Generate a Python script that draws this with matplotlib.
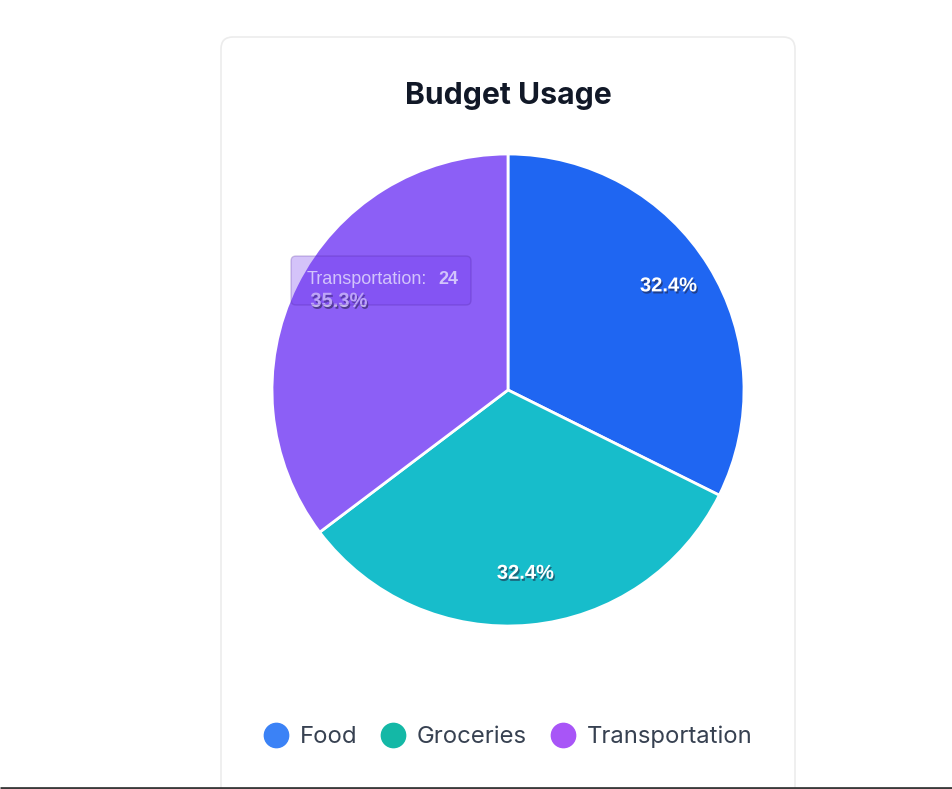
import matplotlib.pyplot as plt
import matplotlib.patheffects as pe
from matplotlib.patches import FancyBboxPatch
from matplotlib.lines import Line2D

# data
labels = ['Food', 'Groceries', 'Transportation']
values = [22, 22, 24]
slice_colors = ['#1f66f2', '#17bdcb', '#8c5ff6']
legend_colors = ['#3b82f6', '#14b8a6', '#a855f7']
hover_label = 'Transportation'

W, H = 953, 789
fig = plt.figure(figsize=(W / 100, H / 100), dpi=100)
fig.patch.set_facecolor('white')

# card behind everything
base = fig.add_axes([0, 0, 1, 1], zorder=-5)
base.set_xlim(0, W)
base.set_ylim(H, 0)
base.axis('off')
base.add_patch(FancyBboxPatch((221, 37), 574, 780, boxstyle='round,pad=0,rounding_size=12',
                              facecolor='white', edgecolor='#ececec', lw=1.2))

# pie
cx, cy, r = 508, 390, 236
ax = fig.add_axes([(cx - r) / W, (H - cy - r) / H, 2 * r / W, 2 * r / H], zorder=0)
wedges, texts, autotexts = ax.pie(
    values, colors=slice_colors, startangle=90, counterclock=False,
    autopct='%1.1f%%', pctdistance=0.8,
    wedgeprops=dict(edgecolor='white', linewidth=2, joinstyle='round'),
    textprops=dict(color='white', fontsize=14.5, fontweight='bold',
                   family='Liberation Sans'))
ax.set_xlim(-1, 1)
ax.set_ylim(-1, 1)
ax.set_aspect('auto')

shadow = [pe.SimplePatchShadow(offset=(1, -1.5), shadow_rgbFace='#1f1f3a', alpha=0.55),
          pe.Normal()]
for i, t in enumerate(autotexts):
    x, y = t.get_position()
    t.set_position((x, y + 0.02))
    t.set_path_effects(shadow)
    if labels[i] == hover_label:
        t.set_color('#ddd4fb')

# overlay axes in pixel coords: title, tooltip, bottom rule
bg = fig.add_axes([0, 0, 1, 1], zorder=1)
bg.set_xlim(0, W)
bg.set_ylim(H, 0)
bg.axis('off')
bg.patch.set_alpha(0)

bg.plot([0, W], [788, 788], color='#3a3a3a', lw=2, solid_capstyle='butt')
bg.text(508, 96, 'Budget Usage', ha='center', va='center', fontsize=21.7,
        fontweight='bold', family='Inter', color='#111827')

# hover tooltip (faded)
hi = labels.index(hover_label)
bg.add_patch(FancyBboxPatch((291, 256), 180, 49, boxstyle='round,pad=0,rounding_size=5',
                            facecolor=(0.45, 0.23, 0.93, 0.3),
                            edgecolor=(0.3, 0.15, 0.6, 0.25), lw=1, zorder=5))
bg.text(307, 279, hover_label + ':', ha='left', va='center', fontsize=13,
        family='Liberation Sans', color='#d2c4fb', zorder=6)
bg.text(438, 279, str(values[hi]), ha='left', va='center', fontsize=13,
        fontweight='bold', family='Liberation Sans', color='#d2c4fb', zorder=6)

# legend
handles = [Line2D([], [], marker='o', linestyle='none', markersize=17.5,
                  markerfacecolor=c, markeredgecolor=c) for c in legend_colors]
fig.legend(handles, labels, loc='center', bbox_to_anchor=(508 / W, 1 - 737 / H),
           ncol=3, frameon=False, handletextpad=0.5, columnspacing=1.0,
           handlelength=1.0, prop=dict(family='Inter', size=17.2),
           labelcolor='#374151')

fig.savefig('out.png', dpi=100)
